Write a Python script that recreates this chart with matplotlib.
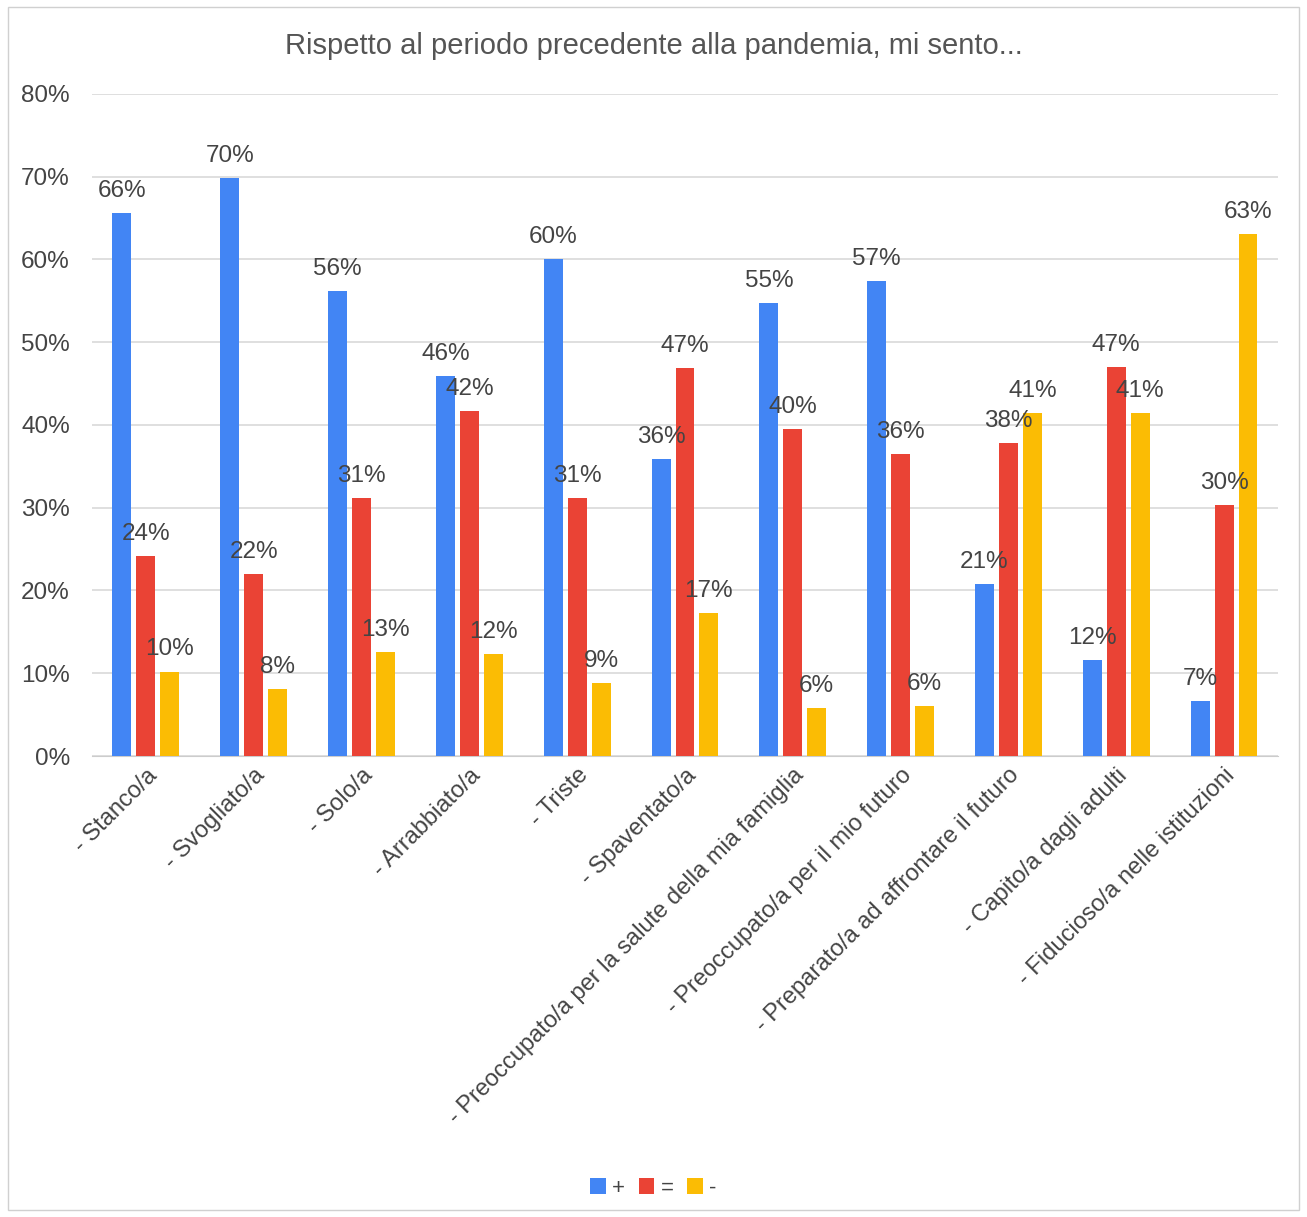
import numpy as np
import matplotlib.pyplot as plt
from matplotlib.patches import Rectangle

plt.rcParams['font.family'] = ['Liberation Sans', 'DejaVu Sans']

categories = ['- Stanco/a', '- Svogliato/a', '- Solo/a', '- Arrabbiato/a', '- Triste',
              '- Spaventato/a', '- Preoccupato/a per la salute della mia famiglia',
              '- Preoccupato/a per il mio futuro', '- Preparato/a ad affrontare il futuro',
              '- Capito/a dagli adulti', '- Fiducioso/a nelle istituzioni']
piu = [65.6, 69.8, 56.2, 45.9, 60.1, 35.9, 54.7, 57.4, 20.8, 11.6, 6.6]
uguale = [24.2, 22.0, 31.2, 41.7, 31.2, 46.9, 39.5, 36.5, 37.8, 47.0, 30.3]
meno = [10.2, 8.1, 12.6, 12.3, 8.8, 17.3, 5.8, 6.0, 41.4, 41.4, 63.1]
series = [('+', piu, '#4285f4'), ('=', uguale, '#ea4335'), ('-', meno, '#fbbc04')]

fig = plt.figure(figsize=(13.07, 12.17), dpi=100)
ax = fig.add_axes([0.0704, 0.3788, 0.9074, 0.544])
fig.patches.append(Rectangle((0.006, 0.006), 0.988, 0.988, transform=fig.transFigure,
                             fill=False, edgecolor='#d0d0d0', lw=1))

x = np.arange(len(categories))
w = 0.176
step = 0.222
txt = '#444444'
for i, (name, vals, col) in enumerate(series):
    pos = x + (i - 1) * step
    ax.bar(pos, vals, width=w, color=col, label=name, zorder=3)
    for p, v in zip(pos, vals):
        ax.annotate('%d%%' % round(v), (p, v), xytext=(0, 8), textcoords='offset points',
                    ha='center', va='bottom', fontsize=17.5, color=txt, zorder=4)

ax.set_xlim(-0.5, len(categories) - 0.5)
ax.set_ylim(0, 80)
ax.set_yticks(range(0, 81, 10))
ax.set_yticklabels(['%d%%' % t for t in range(0, 81, 10)], fontsize=17.5, color=txt)
ax.yaxis.grid(True, color='#d9d9d9', lw=1.2, zorder=0)
ax.set_xticks(x)
ax.set_xticklabels(categories, rotation=45, ha='right', rotation_mode='anchor',
                   fontsize=17, color=txt)
ax.tick_params(axis='y', length=0, pad=16)
ax.tick_params(axis='x', length=0, pad=6)
for s in ['top', 'right', 'left']:
    ax.spines[s].set_visible(False)
ax.spines['bottom'].set_color('#cccccc')

fig.text(0.5, 0.962, 'Rispetto al periodo precedente alla pandemia, mi sento...',
         ha='center', va='center', fontsize=21, color='#555555')
fig.legend(loc='center', bbox_to_anchor=(0.5, 0.0235), ncol=3, frameon=False,
           fontsize=16, handlelength=0.7, handleheight=0.7, handletextpad=0.3,
           columnspacing=0.6, labelcolor=txt)

fig.savefig('out.png', dpi=100)
